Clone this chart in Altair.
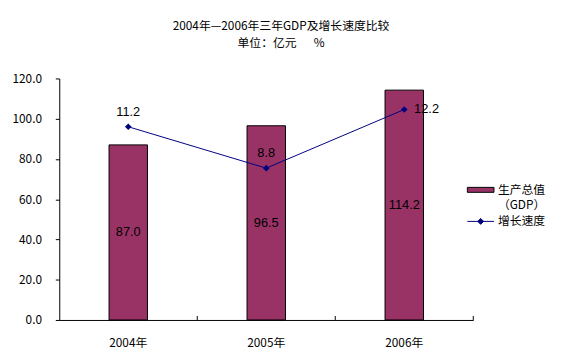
import altair as alt
import pandas as pd

years = ["2004年", "2005年", "2006年"]
gdp = [87.0, 96.5, 114.2]
growth = [11.2, 8.8, 12.2]

gdp_name = "生产总值"
gdp_name2 = "（GDP）"
growth_name = "增长速度"

df = pd.DataFrame({"year": years, "gdp": gdp, "growth": growth,
                   "s1": [gdp_name] * 3, "s2": [growth_name] * 3})

CJK = "Noto Sans CJK SC"
LAT = "Liberation Sans"

xenc = alt.X("year:N", sort=years, title=None,
             scale=alt.Scale(paddingInner=0, paddingOuter=0),
             axis=alt.Axis(labelAngle=0, tickSize=0, labelPadding=18,
                           domainColor="black", labelFont=CJK, labelFontSize=12,
                           labelColor="black"))

ygdp = alt.Y("gdp:Q", title=None,
             scale=alt.Scale(domain=[0, 120], nice=False),
             axis=alt.Axis(values=[0, 20, 40, 60, 80, 100, 120], format=".1f",
                           grid=False, domainColor="black", tickColor="black",
                           tickSize=4, labelPadding=14, labelFont=CJK,
                           labelFontSize=12, labelColor="black"))

base = alt.Chart(df)

bars = base.mark_bar(width=39, stroke="black", strokeWidth=1).encode(
    x=xenc,
    y=ygdp,
    fill=alt.Fill("s1:N", scale=alt.Scale(domain=[gdp_name, gdp_name2],
                                          range=["#993366", "transparent"]),
                  legend=alt.Legend(title=None, orient="none", legendX=421.5, legendY=107,
                                    symbolType="M-2.7,-0.5H2.7V0.5H-2.7Z", symbolSize=100,
                                    symbolStrokeColor={"expr": "datum.index == 0 ? 'black' : 'transparent'"},
                                    symbolStrokeWidth=1, symbolOpacity=1,
                                    labelFont=CJK, labelFontSize=12, labelColor="black",
                                    rowPadding=3,
                                    labelOffset=11.5, padding=0, labelLimit=200)),
)

bar_text = base.mark_text(font=LAT, fontSize=13, color="black", baseline="middle").encode(
    x=alt.X("year:N", sort=years),
    y=alt.Y("mid:Q", scale=alt.Scale(domain=[0, 120], nice=False)),
    text=alt.Text("gdp:Q", format=".1f"),
).transform_calculate(mid="datum.gdp / 2")

ticks = base.mark_rule(color="black", strokeWidth=1).encode(
    x=alt.X("year:N", sort=years, bandPosition=1),
    y=alt.value(245),
    y2=alt.value(241),
)

left = alt.layer(bars, bar_text, ticks)

yg = alt.Y("growth:Q", title=None, scale=alt.Scale(domain=[0, 14], nice=False), axis=None)

line = base.mark_line(color="#000080", strokeWidth=1).encode(
    x=alt.X("year:N", sort=years),
    y=yg,
    stroke=alt.Stroke("s2:N", scale=alt.Scale(domain=[growth_name], range=["#000080"]),
                      legend=alt.Legend(title=None, orient="none", legendX=421.5, legendY=139,
                                        symbolType="M-2.7,0H2.7M0,-0.6L0.6,0L0,0.6L-0.6,0Z",
                                        symbolSize=100, symbolFillColor="#000080",
                                        symbolStrokeWidth=1,
                                        labelFont=CJK, labelFontSize=12, labelColor="black",
                                        labelOffset=11.5, padding=0)),
)

pts = base.mark_point(shape="diamond", filled=True, color="#000080", size=45, opacity=1).encode(
    x=alt.X("year:N", sort=years),
    y=yg,
)

gtext_above = base.mark_text(font=LAT, fontSize=13, color="black", dy=-15).encode(
    x=alt.X("year:N", sort=years),
    y=yg,
    text=alt.Text("growth:Q", format=".1f"),
).transform_filter("datum.year != '2006年'")

gtext_right = base.mark_text(font=LAT, fontSize=13, color="black", align="left", dx=10).encode(
    x=alt.X("year:N", sort=years),
    y=yg,
    text=alt.Text("growth:Q", format=".1f"),
).transform_filter("datum.year == '2006年'")

right = alt.layer(line, pts, gtext_above, gtext_right)

chart = alt.layer(left, right).resolve_scale(y="independent", fill="independent",
                                             stroke="independent").properties(
    width=420,
    height=245,
    autosize=alt.AutoSizeParams(type="none"),
    padding={"left": 52, "top": 69, "right": 89, "bottom": 29},
    title=alt.TitleParams(text=["2004年—2006年三年GDP及增长速度比较",
                                "单位：亿元\u3000\u00a0\u00a0%"],
                          font=CJK, fontSize=12, fontWeight="normal", color="black",
                          anchor="middle", dx=15, offset=23, lineHeight=17),
).configure_view(stroke=None)

chart.save("out.html", embed_options={"renderer": "svg", "actions": False})
